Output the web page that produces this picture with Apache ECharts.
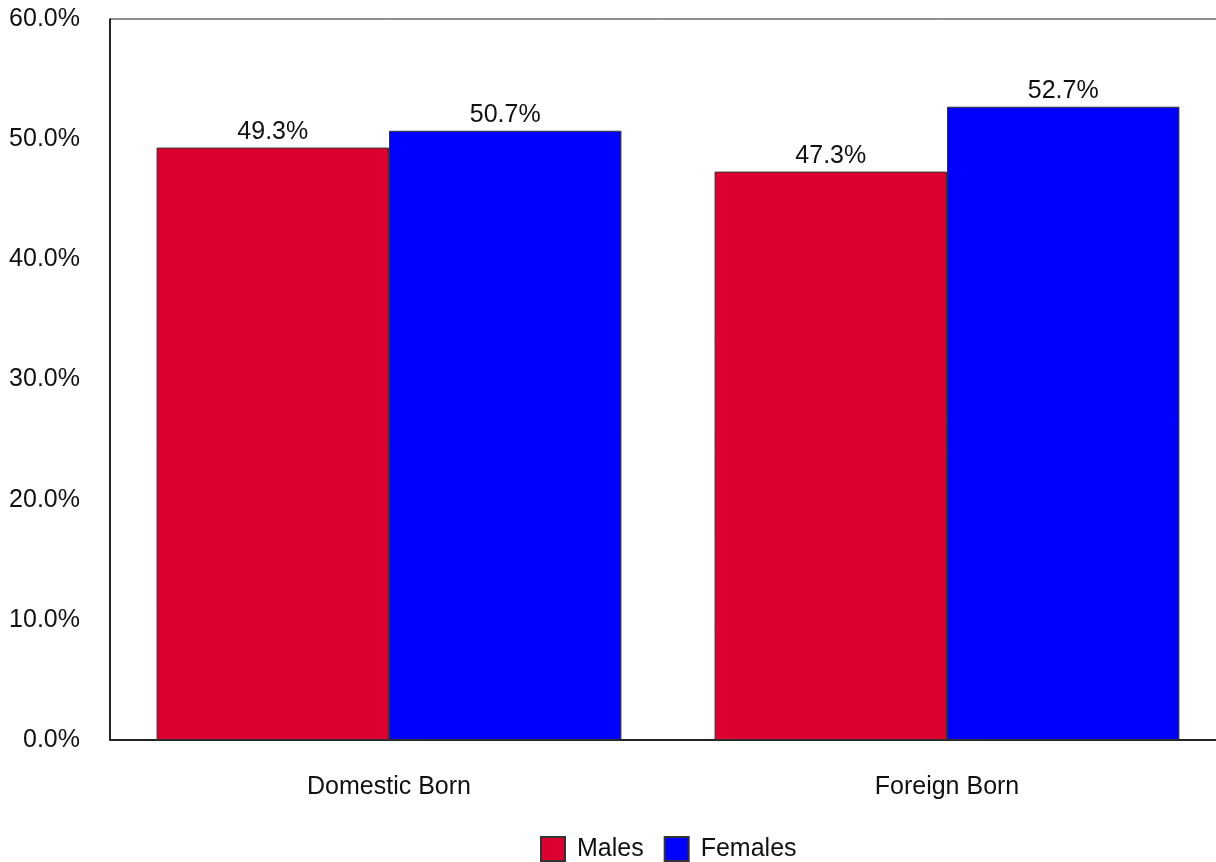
<!DOCTYPE html>
<html>
<head>
<meta charset="utf-8">
<script src="https://cdn.jsdelivr.net/npm/echarts@6/dist/echarts.min.js"></script>
<style>
html,body{margin:0;padding:0;background:#fff;}
#chart{width:1216px;height:862px;}
</style>
</head>
<body>
<div id="chart"></div>
<script>
const categories = ["Domestic Born", "Foreign Born"];
const males = [49.3, 47.3];
const females = [50.7, 52.7];
const seriesNames = ["Males", "Females"];

const FONT = "Liberation Sans, Arial, sans-serif";
const chart = echarts.init(document.getElementById('chart'), null, {renderer: 'canvas'});
const labelCfg = {
  show: true, position: 'top', distance: 3,
  color: '#111', fontFamily: FONT, fontSize: 25,
  formatter: p => p.value.toFixed(1) + '%'
};
chart.setOption({
  animation: false,
  backgroundColor: '#fff',
  grid: {left: 110, width: 1116, top: 19, height: 721, outerBoundsMode: 'none', containLabel: false,
    show: true, borderColor: '#222', borderWidth: 1, backgroundColor: 'transparent'},
  legend: {
    bottom: 0, left: 540, itemWidth: 24, itemHeight: 24, itemGap: 20, padding: [0, 0, 0, 0],
    textStyle: {fontFamily: FONT, fontSize: 25, color: '#111', padding: [0, 0, 0, 7]},
    data: seriesNames.map(n => ({name: n, icon: 'rect'}))
  },
  xAxis: {
    type: 'category', data: categories,
    axisLine: {show: true, lineStyle: {color: '#000', width: 1.5}},
    axisTick: {show: false},
    axisLabel: {fontFamily: FONT, fontSize: 25, color: '#111', margin: 35}
  },
  yAxis: {
    type: 'value', min: 0, max: 60, interval: 10,
    axisLine: {show: true, lineStyle: {color: '#000', width: 1.5}},
    axisTick: {show: false},
    splitLine: {show: false},
    axisLabel: {fontFamily: FONT, fontSize: 25, color: '#111', margin: 30,
      formatter: v => v.toFixed(1) + '%'}
  },
  series: [
    {name: seriesNames[0], type: 'bar', data: males, barGap: '0%', barCategoryGap: '16.7%',
     itemStyle: {color: '#DC0030', borderColor: '#333', borderWidth: 1}, label: labelCfg},
    {name: seriesNames[1], type: 'bar', data: females, barGap: '0%', barCategoryGap: '16.7%',
     itemStyle: {color: '#0000FF', borderColor: '#333', borderWidth: 1}, label: labelCfg}
  ]
});
</script>
</body>
</html>
